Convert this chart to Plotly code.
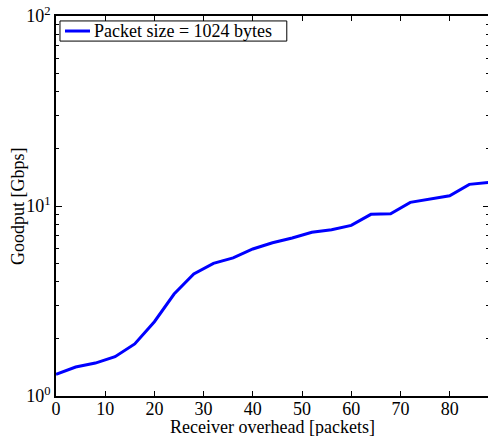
import plotly.graph_objects as go

overhead = [0, 4, 8, 12, 16, 20, 24, 28, 32, 36, 40, 44, 48, 52, 56, 60, 64, 68, 72, 76, 80, 84, 88]
goodput = [1.30, 1.42, 1.49, 1.61, 1.88, 2.46, 3.44, 4.39, 4.99, 5.33, 5.94, 6.41, 6.79, 7.27, 7.50,
           7.91, 9.04, 9.11, 10.45, 10.92, 11.33, 13.0, 13.3]
series_name = "Packet size = 1024 bytes"
x_title = "Receiver overhead [packets]"
y_title = "Goodput [Gbps]"
x_ticks = [0, 10, 20, 30, 40, 50, 60, 70, 80]
y_ticks = [1, 10, 100]
y_ticktext = ["10<sup>0</sup>", "10<sup>1</sup>", "10<sup>2</sup>"]
y_minor = [m * d for d in (1, 10) for m in range(2, 10)]

FONT = "Liberation Serif, Times New Roman, serif"
FS = 18
LINE_COLOR = "#0000ff"

fig = go.Figure()
fig.add_trace(go.Scatter(x=overhead, y=goodput, mode="lines", name=series_name,
                         line=dict(color=LINE_COLOR, width=3), showlegend=False))

# legend box drawn in the plot's paper space (upper-left corner)
legend_shapes = [
    dict(type="rect", xref="paper", yref="paper", x0=0.0092, x1=0.533, y0=0.934, y1=0.987,
         line=dict(color="black", width=1), fillcolor="white", layer="above"),
    dict(type="line", xref="paper", yref="paper", x0=0.0208, x1=0.0785, y0=0.9605, y1=0.9605,
         line=dict(color=LINE_COLOR, width=3), layer="above"),
]

fig.update_layout(
    width=490, height=436,
    margin=dict(l=56, r=1, t=16, b=40),
    paper_bgcolor="white", plot_bgcolor="white",
    font=dict(family=FONT, size=FS, color="black"),
    showlegend=False,
    shapes=legend_shapes,
    annotations=[
        dict(text=series_name, xref="paper", yref="paper", x=0.0825, y=0.9605,
             xanchor="left", yanchor="middle", showarrow=False,
             font=dict(family=FONT, size=FS)),
        dict(text=x_title, xref="paper", yref="paper", x=0.5, y=0, yshift=-31,
             xanchor="center", yanchor="middle", showarrow=False,
             font=dict(family=FONT, size=FS)),
        dict(text=y_title, xref="paper", yref="paper", x=0, y=0.5, xshift=-38,
             xanchor="center", yanchor="middle", textangle=-90, showarrow=False,
             font=dict(family=FONT, size=FS)),
    ],
)
fig.update_xaxes(
    range=[0, 88], tickvals=x_ticks, ticks="inside", ticklen=5, tickwidth=1,
    tickcolor="black", showline=True, linecolor="black", linewidth=1.5,
    mirror="ticks", showgrid=False, zeroline=False, automargin=False,
    tickfont=dict(family=FONT, size=FS), ticklabelstandoff=-4,
)
fig.update_yaxes(
    type="log", range=[0, 2], tickvals=y_ticks, ticktext=y_ticktext,
    ticks="inside", ticklen=6, tickwidth=1, tickcolor="black",
    showline=True, linecolor="black", linewidth=1.5, mirror="ticks",
    showgrid=False, zeroline=False, automargin=False,
    minor=dict(tickvals=y_minor, ticks="inside", ticklen=3, tickcolor="black", showgrid=False),
    tickfont=dict(family=FONT, size=FS),
)

fig.write_html("out.html", config={"displayModeBar": False},
               post_script="document.body.style.margin='0';document.body.style.overflow='hidden';")
